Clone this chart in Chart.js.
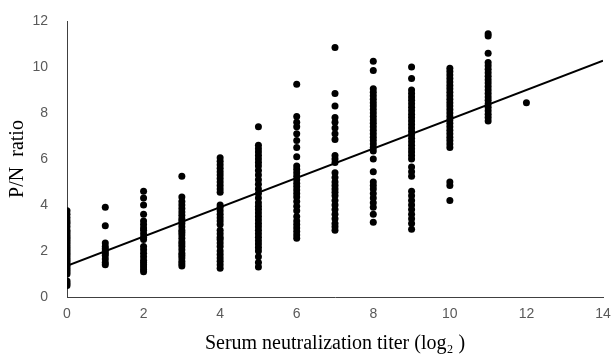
<!DOCTYPE html>
<html>
<head>
<meta charset="utf-8">
<script src="https://cdn.jsdelivr.net/npm/chart.js@4/dist/chart.umd.min.js"></script>
<style>
  html, body { margin: 0; padding: 0; background: #fff; }
  #wrap { width: 612px; height: 360px; }
</style>
</head>
<body>
<div id="wrap"><canvas id="scatter"></canvas></div>
<script>
// titer (log2) columns and the P/N ratios read at each of them
const titers = [0, 1, 2, 3, 4, 5, 6, 7, 8, 9, 10, 11, 12]
const col0 = [3.75, 3.6, 3.45, 3.3, 3.2, 3.05, 2.9, 2.8, 2.7, 2.6, 2.5, 2.4, 2.3, 2.2, 2.1, 2.0, 1.9, 1.8, 1.7, 1.6, 1.5, 1.4, 1.3, 1.2, 1.1, 1.0, 0.7, 0.6, 0.5]
const col1 = [3.9, 3.1, 2.35, 2.2, 2.1, 2.0, 1.9, 1.8, 1.65, 1.5, 1.4]
const col2 = [4.6, 4.3, 4.0, 3.6, 3.3, 3.15, 3.0, 2.9, 2.75, 2.6, 2.5, 2.2, 2.05, 1.9, 1.75, 1.6, 1.5, 1.4, 1.3, 1.2, 1.1]
const col3 = [5.25, 4.35, 4.15, 4.0, 3.85, 3.7, 3.55, 3.4, 3.3, 3.2, 3.05, 2.9, 2.8, 2.7, 2.55, 2.4, 2.3, 2.2, 2.05, 1.9, 1.8, 1.7, 1.55, 1.45, 1.35]
const col4 = [6.05, 5.9, 5.75, 5.6, 5.45, 5.3, 5.15, 5.0, 4.85, 4.7, 4.55, 4.0, 3.9, 3.75, 3.6, 3.45, 3.3, 3.15, 2.9, 2.75, 2.6, 2.5, 2.35, 2.2, 2.0, 1.85, 1.7, 1.55, 1.4, 1.25]
const col5 = [7.4, 6.6, 6.45, 6.3, 6.15, 6.0, 5.85, 5.7, 5.5, 5.3, 5.1, 4.9, 4.7, 4.5, 4.3, 4.1, 3.95, 3.8, 3.65, 3.5, 3.35, 3.2, 3.05, 2.9, 2.75, 2.6, 2.45, 2.3, 2.15, 2.0, 1.75, 1.5, 1.3]
const col6 = [9.25, 7.85, 7.6, 7.4, 7.1, 6.8, 6.5, 6.1, 5.7, 5.55, 5.4, 5.25, 5.1, 4.95, 4.8, 4.65, 4.5, 4.35, 4.15, 3.95, 3.75, 3.5, 3.3, 3.15, 3.0, 2.85, 2.7, 2.55]
const col7 = [10.85, 8.85, 8.3, 7.8, 7.6, 7.35, 7.1, 6.85, 6.15, 6.0, 5.85, 5.4, 5.2, 5.0, 4.85, 4.7, 4.55, 4.4, 4.2, 4.0, 3.8, 3.6, 3.4, 3.2, 3.05, 2.9]
const col8 = [10.25, 9.85, 9.05, 8.9, 8.75, 8.6, 8.45, 8.3, 8.15, 8.0, 7.85, 7.7, 7.55, 7.4, 7.25, 7.1, 6.95, 6.8, 6.65, 6.5, 6.35, 6.0, 5.45, 5.0, 4.85, 4.7, 4.5, 4.3, 4.1, 3.9, 3.6, 3.25]
const col9 = [10.0, 9.5, 9.0, 8.85, 8.7, 8.55, 8.4, 8.25, 8.1, 7.95, 7.8, 7.65, 7.5, 7.35, 7.2, 7.05, 6.9, 6.75, 6.6, 6.45, 6.3, 6.15, 6.0, 5.65, 5.45, 5.25, 4.6, 4.4, 4.2, 4.0, 3.8, 3.6, 3.4, 3.2, 2.95]
const col10 = [9.95, 9.8, 9.65, 9.5, 9.35, 9.2, 9.05, 8.9, 8.75, 8.6, 8.45, 8.3, 8.15, 8.0, 7.85, 7.7, 7.55, 7.4, 7.25, 7.1, 6.95, 6.8, 6.65, 6.5, 5.0, 4.85, 4.2]
const col11 = [11.45, 11.35, 10.6, 10.2, 10.05, 9.9, 9.75, 9.6, 9.45, 9.3, 9.15, 9.0, 8.85, 8.7, 8.55, 8.4, 8.25, 8.1, 7.95, 7.8, 7.65]
const col12 = [8.45]
const columns = [col0, col1, col2, col3, col4, col5, col6, col7, col8, col9, col10, col11, col12]

// linear trend line end points
const trendX = [0, 14]
const trendY = [1.36, 10.27]

const xTicks = [0, 2, 4, 6, 8, 10, 12, 14]
const yTicks = [0, 2, 4, 6, 8, 10, 12]

const points = []
titers.forEach((t, i) => {
  columns[i].forEach((v) => points.push({ x: t, y: v }))
})
const trend = trendX.map((x, i) => ({ x: x, y: trendY[i] }))

const tickFont = { family: 'Liberation Sans, Arial, sans-serif', size: 14 }
const titleFont = { family: 'Liberation Serif, Times New Roman, serif', size: 20 }

new Chart(document.getElementById('scatter'), {
  type: 'scatter',
  data: {
    datasets: [
      {
        label: 'P/N',
        data: points,
        pointRadius: 3.5,
        pointBackgroundColor: '#000',
        pointBorderWidth: 0,
        pointHoverRadius: 3.5
      },
      {
        label: 'trend',
        type: 'line',
        data: trend,
        borderColor: '#000',
        borderWidth: 2,
        pointRadius: 0,
        fill: false
      }
    ]
  },
  options: {
    responsive: true,
    maintainAspectRatio: false,
    animation: false,
    layout: { padding: { top: 21, right: 9, left: 0, bottom: 0 } },
    plugins: { legend: { display: false }, tooltip: { enabled: false } },
    scales: {
      x: {
        type: 'linear',
        min: 0,
        max: 14,
        afterBuildTicks: (axis) => { axis.ticks = xTicks.map((v) => ({ value: v })) },
        afterFit: (axis) => {
          axis.height = 63
          axis.paddingLeft = 0
          axis.paddingRight = 0
        },
        grid: { display: false, drawTicks: false },
        border: { display: true, color: '#404040', width: 1 },
        ticks: { font: tickFont, color: '#595959', padding: 9 },
        title: {
          display: true,
          text: 'Serum neutralization titer (log\u2082 )',
          font: titleFont,
          color: '#000',
          padding: { top: 17 }
        }
      },
      y: {
        min: 0,
        max: 12,
        afterBuildTicks: (axis) => { axis.ticks = yTicks.map((v) => ({ value: v })) },
        afterFit: (axis) => {
          axis.width = 67
          axis.paddingTop = 0
          axis.paddingBottom = 0
        },
        grid: { display: false, drawTicks: false },
        border: { display: true, color: '#404040', width: 1 },
        ticks: { font: tickFont, color: '#595959', padding: 19 },
        title: {
          display: true,
          text: 'P/N  ratio',
          font: titleFont,
          color: '#000',
          padding: { top: 6, bottom: 0 }
        }
      }
    }
  }
})
</script>
</body>
</html>
